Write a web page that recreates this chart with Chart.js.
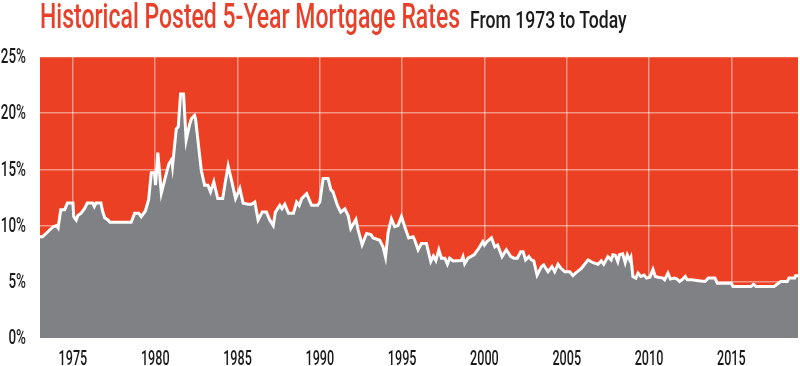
<!DOCTYPE html>
<html>
<head>
<meta charset="utf-8">
<script src="https://cdn.jsdelivr.net/npm/chart.js@4.4.0/dist/chart.umd.min.js"></script>
<style>
  html, body { margin: 0; padding: 0; background: #fff; }
  #wrap { position: relative; width: 800px; height: 366px; overflow: hidden; }
  .head {
    position: absolute; white-space: nowrap; display: inline-block;
    font-family: Roboto, "DejaVu Sans Condensed", sans-serif; font-weight: 500;
    transform-origin: 0 0;
  }
  #mainTitle { left: 40px; top: -1.5px; font-size: 35px; line-height: 35px; color: #e8412b; }
  #subTitle { left: 470px; top: 7.5px; font-size: 24px; line-height: 24px; color: #1a1a1a; }
  canvas { position: absolute; left: 0; top: 0; }
</style>
</head>
<body>
<div id="wrap">
  <canvas id="chartCanvas" width="800" height="366"></canvas>
  <span class="head" id="mainTitle">Historical Posted 5-Year Mortgage Rates</span>
  <span class="head" id="subTitle">From 1973 to Today</span>
</div>
<script>
// values (year, posted 5-year rate in %)
var years = [
  1973.00, 1973.15, 1973.80, 1974.00, 1974.10, 1974.26, 1974.50, 1974.66, 1975.00, 1975.05,
  1975.20, 1975.30, 1975.50, 1975.70, 1975.87, 1976.20, 1976.30, 1976.40, 1976.70, 1976.80,
  1976.93, 1977.13, 1977.25, 1978.54, 1978.75, 1979.00, 1979.15, 1979.40, 1979.60, 1979.76,
  1979.95, 1980.02, 1980.16, 1980.37, 1980.67, 1980.83, 1981.00, 1981.05, 1981.28, 1981.40,
  1981.54, 1981.72, 1981.88, 1982.09, 1982.20, 1982.39, 1982.45, 1982.80, 1983.00, 1983.20,
  1983.36, 1983.56, 1983.80, 1984.10, 1984.25, 1984.43, 1984.64, 1984.88, 1985.14, 1985.34,
  1985.65, 1985.85, 1986.05, 1986.25, 1986.50, 1986.76, 1986.96, 1987.17, 1987.30, 1987.57,
  1987.70, 1987.87, 1988.10, 1988.40, 1988.59, 1988.75, 1988.90, 1989.20, 1989.50, 1989.86,
  1990.00, 1990.20, 1990.50, 1990.67, 1990.80, 1991.07, 1991.27, 1991.52, 1991.72, 1991.88,
  1992.19, 1992.33, 1992.57, 1992.84, 1993.10, 1993.24, 1993.64, 1993.84, 1993.99, 1994.15,
  1994.35, 1994.55, 1994.75, 1994.96, 1995.16, 1995.40, 1995.67, 1995.77, 1995.97, 1996.17,
  1996.48, 1996.74, 1996.90, 1997.05, 1997.23, 1997.39, 1997.60, 1997.75, 1997.89, 1998.10,
  1998.60, 1998.70, 1998.80, 1999.00, 1999.37, 1999.60, 1999.78, 1999.90, 2000.00, 2000.15,
  2000.43, 2000.63, 2000.80, 2001.07, 2001.33, 2001.60, 2001.80, 2002.00, 2002.20, 2002.35,
  2002.50, 2002.70, 2002.85, 2003.00, 2003.20, 2003.46, 2003.60, 2003.86, 2004.10, 2004.27,
  2004.47, 2004.65, 2004.88, 2005.18, 2005.38, 2005.55, 2005.89, 2006.30, 2006.60, 2006.90,
  2007.10, 2007.25, 2007.50, 2007.70, 2007.80, 2007.95, 2008.10, 2008.20, 2008.40, 2008.55,
  2008.68, 2008.82, 2008.90, 2009.02, 2009.20, 2009.33, 2009.50, 2009.70, 2009.85, 2010.05,
  2010.24, 2010.38, 2010.55, 2010.84, 2010.95, 2011.15, 2011.30, 2011.55, 2011.70, 2011.85,
  2012.00, 2012.20, 2012.32, 2012.60, 2013.00, 2013.40, 2013.60, 2014.00, 2014.15, 2015.00,
  2015.10, 2016.20, 2016.35, 2016.50, 2017.60, 2018.00, 2018.40, 2018.50, 2018.85, 2018.90,
  2019.05
];
var rates = [
  9.0, 9.0, 9.9, 10.0, 9.8, 11.4, 11.4, 12.0, 12.0, 10.8,
  10.5, 10.9, 11.1, 11.5, 12.0, 12.0, 11.7, 12.0, 12.0, 11.3,
  10.7, 10.5, 10.3, 10.3, 11.1, 11.1, 10.8, 11.3, 12.3, 14.7,
  14.7, 13.6, 16.5, 12.9, 14.6, 15.5, 15.9, 15.3, 18.6, 18.8,
  21.7, 21.7, 17.6, 19.0, 19.5, 19.8, 19.5, 14.9, 13.6, 13.6,
  13.0, 13.9, 12.4, 12.4, 13.8, 15.3, 14.0, 12.4, 13.3, 12.0,
  11.9, 11.9, 12.1, 10.5, 11.2, 11.2, 10.5, 10.0, 11.2, 11.8,
  11.5, 11.9, 11.1, 11.1, 12.1, 11.8, 12.4, 12.85, 11.8, 11.8,
  12.1, 14.2, 14.2, 13.2, 13.0, 11.8, 11.2, 11.5, 10.9, 9.75,
  10.55, 9.6, 8.3, 9.3, 9.2, 8.9, 8.7, 8.1, 7.2, 9.4,
  10.6, 9.9, 10.0, 10.8, 9.9, 8.9, 9.0, 8.7, 7.85, 8.4,
  8.4, 6.8, 7.3, 6.9, 7.85, 7.1, 7.1, 6.56, 7.1, 6.86,
  6.9, 7.24, 6.6, 7.1, 7.4, 7.85, 8.27, 8.57, 8.27, 8.57,
  8.92, 8.1, 8.27, 7.24, 7.85, 7.24, 7.1, 7.1, 7.68, 7.68,
  6.95, 7.24, 6.95, 6.86, 5.6, 6.35, 6.5, 5.9, 6.35, 5.9,
  6.56, 6.2, 5.9, 5.9, 5.56, 5.8, 6.2, 6.95, 6.7, 6.56,
  6.86, 6.56, 7.24, 6.95, 7.4, 7.35, 6.8, 7.4, 7.48, 6.7,
  7.4, 6.95, 7.2, 5.47, 5.33, 5.77, 5.47, 5.6, 5.33, 5.4,
  6.1, 5.47, 5.4, 5.33, 5.18, 5.77, 5.25, 5.33, 5.25, 5.03,
  5.18, 5.47, 5.18, 5.18, 5.1, 5.03, 5.33, 5.33, 4.88, 4.88,
  4.59, 4.59, 4.79, 4.59, 4.59, 5.03, 5.03, 5.33, 5.33, 5.53,
  5.53
];
var yearTicks = [1975, 1980, 1985, 1990, 1995, 2000, 2005, 2010, 2015];
var rateTicks = [0, 5, 10, 15, 20, 25];

var points = [];
for (var i in years) {
  points.push({x: years[i], y: rates[i]});
}

// red plot background
var plotBg = {
  id: 'plotBg',
  beforeDraw: function(chart) {
    var a = chart.chartArea, ctx = chart.ctx;
    ctx.save();
    ctx.fillStyle = '#ec4024';
    ctx.fillRect(a.left, a.top, a.right - a.left, a.bottom - a.top);
    ctx.restore();
  }
};

// tick labels in a squeezed (condensed) face, placed by the scales
var narrowTicks = {
  id: 'narrowTicks',
  afterDraw: function(chart) {
    var ctx = chart.ctx, xs = chart.scales.x, ys = chart.scales.y;
    ctx.save();
    ctx.fillStyle = '#1a1a1a';
    ctx.font = '500 21px Roboto, "DejaVu Sans Condensed", sans-serif';
    ys.ticks.forEach(function(t) {
      ctx.save();
      ctx.translate(xs.left - 14, ys.getPixelForValue(t.value));
      ctx.scale(0.64, 1);
      ctx.textAlign = 'right';
      ctx.textBaseline = 'middle';
      ctx.fillText(t.value + '%', 0, 1);
      ctx.restore();
    });
    xs.ticks.forEach(function(t) {
      ctx.save();
      ctx.translate(xs.getPixelForValue(t.value), ys.bottom + 27);
      ctx.scale(0.6, 1);
      ctx.textAlign = 'center';
      ctx.textBaseline = 'alphabetic';
      ctx.fillText(String(t.value), 0, 0);
      ctx.restore();
    });
    ctx.restore();
  }
};

var ctx = document.getElementById('chartCanvas');
var chart = new Chart(ctx, {
  type: 'line',
  data: {
    datasets: [{
      data: points,
      borderColor: '#ffffff',
      borderWidth: 3,
      backgroundColor: '#808184',
      fill: 'origin',
      tension: 0,
      pointRadius: 0
    }]
  },
  options: {
    responsive: false,
    animation: false,
    layout: {padding: {top: 57, right: 2, left: 0, bottom: 0}},
    plugins: {legend: {display: false}, tooltip: {enabled: false}},
    scales: {
      x: {
        type: 'linear', min: 1973, max: 2019.05, z: 1,
        afterBuildTicks: function(s) { s.ticks = yearTicks.map(function(v){ return {value: v}; }); },
        afterFit: function(s) { s.height = 28; },
        grid: {color: 'rgba(255,255,255,0.45)', lineWidth: 1.5, drawTicks: false},
        border: {display: false},
        ticks: {display: false}
      },
      y: {
        min: 0, max: 25, z: 1,
        afterBuildTicks: function(s) { s.ticks = rateTicks.map(function(v){ return {value: v}; }); },
        afterFit: function(s) { s.width = 40; },
        grid: {color: 'rgba(255,255,255,0.45)', lineWidth: 1.5, drawTicks: false},
        border: {display: false},
        ticks: {display: false}
      }
    }
  },
  plugins: [plotBg, narrowTicks]
});

// squeeze the heading parts to the reference widths
function squeeze(id, w) {
  var el = document.getElementById(id);
  el.style.transform = 'scaleX(' + (w / el.offsetWidth) + ')';
}
squeeze('mainTitle', 420);
squeeze('subTitle', 157);
</script>
</body>
</html>
